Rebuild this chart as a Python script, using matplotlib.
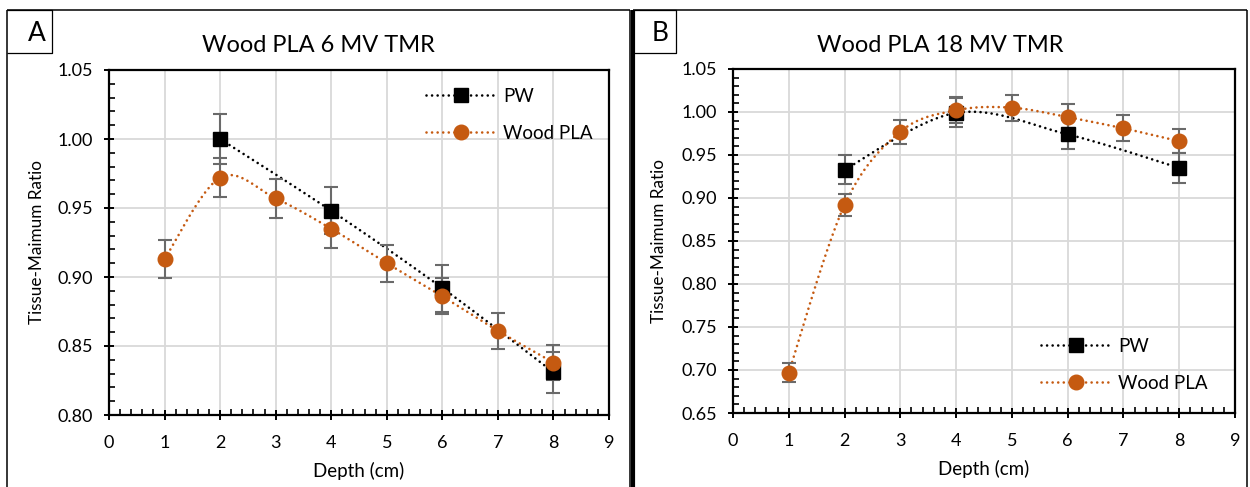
import numpy as np
import matplotlib
matplotlib.use("Agg")
import matplotlib.pyplot as plt
from matplotlib.lines import Line2D

plt.rcParams['font.family'] = ['Lato', 'DejaVu Sans']

# ---- data -------------------------------------------------------------
depth_wood = [1, 2, 3, 4, 5, 6, 7, 8]
depth_pw = [2, 4, 6, 8]

pw_6mv = [1.000, 0.948, 0.892, 0.831]
pw_6mv_err = [0.018, 0.017, 0.017, 0.015]
wood_6mv = [0.913, 0.972, 0.957, 0.935, 0.910, 0.886, 0.861, 0.838]
wood_6mv_err = [0.014, 0.014, 0.014, 0.014, 0.0135, 0.013, 0.013, 0.0125]

pw_18mv = [0.933, 0.999, 0.974, 0.935]
pw_18mv_err = [0.017, 0.017, 0.017, 0.017]
wood_18mv = [0.697, 0.892, 0.977, 1.002, 1.005, 0.994, 0.981, 0.966]
wood_18mv_err = [0.011, 0.013, 0.014, 0.015, 0.015, 0.015, 0.015, 0.014]

titles = ["Wood PLA 6 MV TMR", "Wood PLA 18 MV TMR"]
panel_tags = ["A", "B"]
series_names = ["PW", "Wood PLA"]
xlabel = "Depth (cm)"
ylabel = "Tissue-Maimum Ratio"

ORANGE = "#C55A11"
ERR = "#6a6a6a"
GRID = "#d9d9d9"

W, H = 1250, 487
fig = plt.figure(figsize=(W / 100, H / 100), dpi=100)


def px_axes(x0, y0, x1, y1):
    """Axes placed by pixel box (top-left origin)."""
    return fig.add_axes([x0 / W, 1 - y1 / H, (x1 - x0) / W, (y1 - y0) / H])


def smooth(xs, ys, n=30):
    """Bezier smoothing through points (Excel-style smoothed line)."""
    p = np.column_stack([xs, ys]).astype(float)
    pts = [p[0]]
    for i in range(len(p) - 1):
        p0 = p[i - 1] if i > 0 else p[i]
        p1, p2 = p[i], p[i + 1]
        p3 = p[i + 2] if i + 2 < len(p) else p[i + 1]
        c1 = p1 + (p2 - p0) / 6.0
        c2 = p2 - (p3 - p1) / 6.0
        t = np.linspace(0, 1, n)[1:, None]
        seg = ((1 - t) ** 3) * p1 + 3 * ((1 - t) ** 2) * t * c1 \
            + 3 * (1 - t) * t ** 2 * c2 + t ** 3 * p2
        pts.extend(seg)
    pts = np.array(pts)
    return pts[:, 0], pts[:, 1]


DOT = dict(lw=1.9, linestyle=(0, (0.01, 2.1)), dash_capstyle='round')


def panel(ax, pw, pw_err, wood, wood_err, ylim, ymajor, title, legend_box,
          frame_x, ylabel_x):
    ax.set_xlim(0, 9)
    ax.set_ylim(*ylim)
    ax.set_xticks(np.arange(0, 10, 1))
    ax.set_xticks(np.arange(0, 9.01, 0.2), minor=True)
    yt = np.arange(ylim[0], ylim[1] + 1e-9, ymajor)
    ax.set_yticks(yt)
    ax.set_yticks(np.arange(ylim[0], ylim[1] + 1e-9, 0.01), minor=True)
    ax.set_yticklabels([f"{v:.2f}" for v in yt])
    ax.grid(True, which='major', color=GRID, lw=1.3, zorder=0)
    ax.set_axisbelow(True)
    for s in ax.spines.values():
        s.set_linewidth(1.6)
        s.set_color('black')
    ax.tick_params(which='major', direction='inout', length=7, width=1.4,
                   labelsize=13, pad=8)
    ax.tick_params(which='minor', direction='in', length=4, width=1.2)
    ax.tick_params(axis='x', pad=11)

    # connecting lines
    sx, sy = smooth(depth_pw, pw)
    ax.plot(sx, sy, color='black', zorder=3, **DOT)
    sx, sy = smooth(depth_wood, wood)
    ax.plot(sx, sy, color=ORANGE, zorder=3, **DOT)

    # error bars
    ax.errorbar(depth_pw, pw, yerr=pw_err, fmt='none', ecolor=ERR,
                elinewidth=1.5, capsize=5, capthick=1.5, zorder=4)
    ax.errorbar(depth_wood, wood, yerr=wood_err, fmt='none', ecolor=ERR,
                elinewidth=1.5, capsize=5, capthick=1.5, zorder=4)

    # markers
    ax.plot(depth_pw, pw, ls='none', marker='s', ms=9.5, color='black',
            zorder=5)
    ax.plot(depth_wood, wood, ls='none', marker='o', ms=10.5, color=ORANGE,
            zorder=6)

    ax.set_xlabel(xlabel, fontsize=13.5, labelpad=8)
    ax.set_ylabel(ylabel, fontsize=12.3)
    # y label centred at a fixed horizontal pixel position
    x0_ax = ax.get_position().x0 * W
    w_ax = ax.get_position().width * W
    ax.yaxis.set_label_coords((ylabel_x + 7 - x0_ax) / w_ax, 0.5)

    # title centred over the whole panel frame
    fig.text((frame_x[0] + frame_x[1]) / 2 / W, 1 - 45 / H, title,
             fontsize=17, ha='center', va='center')

    handles = [
        Line2D([], [], color='black', marker='s', ms=9.5, **DOT),
        Line2D([], [], color=ORANGE, marker='o', ms=10.5, **DOT),
    ]
    lx, ytop = legend_box
    ax.legend(handles, series_names, loc='upper left',
              bbox_to_anchor=(lx / W, 1 - ytop / H),
              bbox_transform=fig.transFigure, frameon=False, fontsize=13.5,
              handlelength=3.7, handletextpad=0.42, labelspacing=1.05,
              borderpad=0, borderaxespad=0, numpoints=1)


axA = px_axes(109, 70, 609, 415)
panel(axA, pw_6mv, pw_6mv_err, wood_6mv, wood_6mv_err, (0.80, 1.05), 0.05,
      titles[0], (426, 88), (7, 630), 38)

axB = px_axes(733, 69, 1235, 413)
panel(axB, pw_18mv, pw_18mv_err, wood_18mv, wood_18mv_err, (0.65, 1.05), 0.05,
      titles[1], (1041, 338), (633, 1247), 660)


# ---- outer frames and panel tags ---------------------------------------
def fline(xs, ys, lw):
    fig.add_artist(Line2D([x / W for x in xs], [1 - y / H for y in ys],
                          color='black', lw=lw, transform=fig.transFigure,
                          solid_capstyle='butt'))


fline([7, 7], [10, H], 1.1)
fline([7, 630], [10, 10], 1.1)
fline([630, 630], [10, H], 1.1)
fline([633, 633], [10, H], 3.0)
fline([633, 1247], [10, 10], 1.1)
fline([1247, 1247], [10, H], 1.1)

for (bx0, bx1), tag, dx in zip([(7, 52), (634, 676)], panel_tags, [7, 5]):
    fline([bx0, bx1, bx1, bx0], [53, 53, 10, 10], 0.9)
    fig.text(((bx0 + bx1) / 2 + dx) / W, 1 - 33 / H, tag, fontsize=19,
             ha='center', va='center')

fig.savefig("out.png", dpi=100)
